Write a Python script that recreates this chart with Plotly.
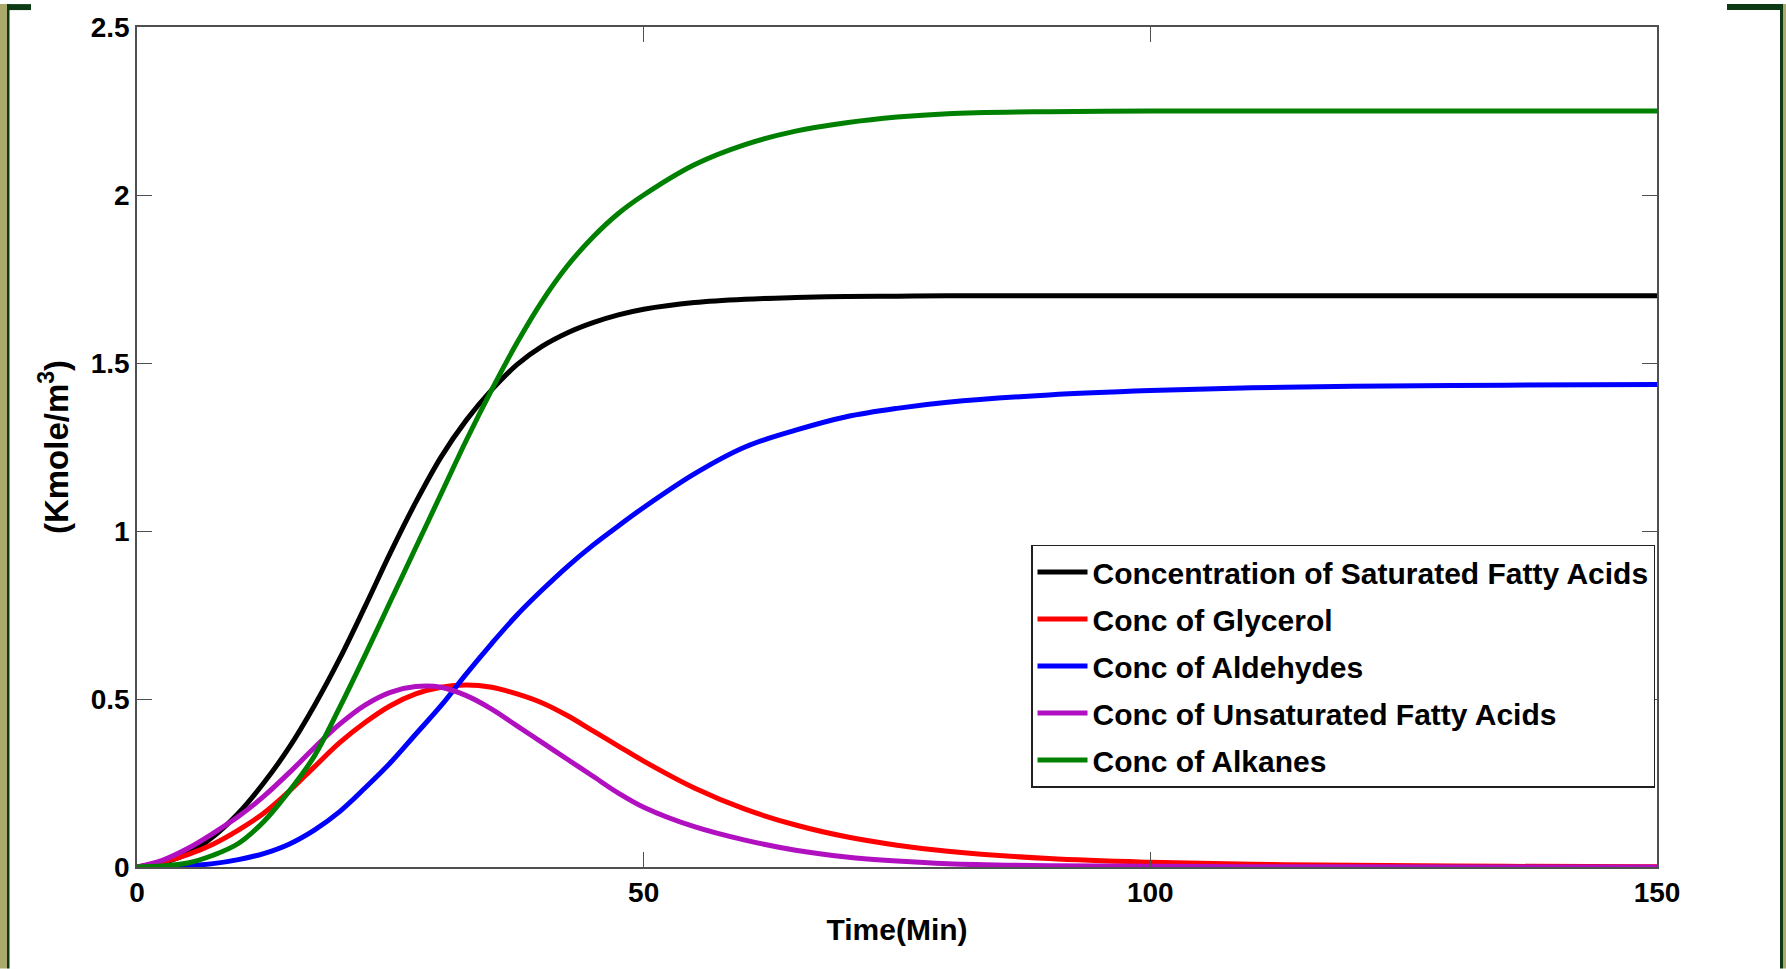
import plotly.graph_objects as go

# ---------------- data ----------------
time_min = [0, 2.5, 5, 7.5, 10, 12.5, 15, 17.5, 20, 22.5, 25, 27.5, 30, 32.5, 35,
            37.5, 40, 42.5, 45, 47.5, 50, 55, 60, 65, 70, 75, 80, 90, 100, 110,
            120, 135, 150]

saturated_fa = [0, 0.012, 0.04, 0.09, 0.16, 0.25, 0.355, 0.48, 0.62, 0.775, 0.935,
                1.085, 1.22, 1.33, 1.42, 1.495, 1.55, 1.59, 1.62, 1.643, 1.66, 1.68,
                1.69, 1.695, 1.698, 1.699, 1.70, 1.70, 1.70, 1.70, 1.70, 1.70, 1.70]

glycerol = [0, 0.015, 0.037, 0.068, 0.11, 0.16, 0.225, 0.298, 0.37, 0.43, 0.48,
            0.515, 0.535, 0.542, 0.535, 0.515, 0.488, 0.45, 0.405, 0.36, 0.315,
            0.235, 0.172, 0.125, 0.09, 0.065, 0.047, 0.025, 0.014, 0.008, 0.005,
            0.002, 0.001]

aldehydes = [0, 0.001, 0.004, 0.01, 0.022, 0.04, 0.068, 0.11, 0.165, 0.235, 0.31,
             0.395, 0.48, 0.575, 0.665, 0.75, 0.825, 0.895, 0.958, 1.015, 1.07,
             1.17, 1.25, 1.30, 1.34, 1.365, 1.383, 1.405, 1.418, 1.426, 1.431,
             1.434, 1.436]

unsaturated_fa = [0, 0.02, 0.055, 0.1, 0.15, 0.21, 0.28, 0.355, 0.425, 0.482, 0.52,
                  0.537, 0.535, 0.51, 0.47, 0.42, 0.37, 0.32, 0.27, 0.22, 0.178,
                  0.12, 0.08, 0.05, 0.03, 0.018, 0.01, 0.004, 0.002, 0.001, 0.0005,
                  0.0002, 0.0001]

alkanes = [0, 0.003, 0.012, 0.035, 0.07, 0.135, 0.225, 0.33, 0.475, 0.63, 0.79,
           0.95, 1.11, 1.27, 1.42, 1.56, 1.685, 1.79, 1.875, 1.945, 2.0, 2.09, 2.15,
           2.19, 2.215, 2.232, 2.242, 2.248, 2.25, 2.25, 2.25, 2.25, 2.25]

series_names = ["Concentration of Saturated Fatty Acids", "Conc of Glycerol",
                "Conc of Aldehydes", "Conc of Unsaturated Fatty Acids", "Conc of Alkanes"]
series_values = [saturated_fa, glycerol, aldehydes, unsaturated_fa, alkanes]
series_colors = ["#000000", "#FF0000", "#0000FF", "#B010C0", "#008000"]

x_ticks = [0, 50, 100, 150]
y_ticks = [0, 0.5, 1, 1.5, 2, 2.5]
y_ticklabels = ["0", "0.5", "1", "1.5", "2", "2.5"]

# ---------------- figure ----------------
W, H = 1786, 969
ML, MR, MT, MB = 137, 129, 23, 102
PW, PH = W - ML - MR, H - MT - MB

def px_x(p):
    return (p - ML) / PW

def px_y(p):
    return (H - MB - p) / PH

FONT = "Liberation Sans, Arial, sans-serif"

fig = go.Figure()
for i, (name, vals, col) in enumerate(zip(series_names, series_values, series_colors)):
    fig.add_trace(go.Scatter(
        x=time_min, y=vals, mode="lines", name=name,
        line=dict(color=col, width=5, shape="spline", smoothing=1.0),
        legendgroup=f"g{i}",
    ))

axis_common = dict(
    showgrid=False, zeroline=False, showline=True, linecolor="#505050", linewidth=1.5,
    mirror="allticks", ticks="inside", ticklen=15, tickwidth=1.3, tickcolor="#505050",
    tickfont=dict(family=FONT, size=28, color="black", weight="bold"),
)

fig.update_xaxes(range=[0, 150], tickvals=x_ticks,
                 title=dict(text="Time(Min)", standoff=12,
                            font=dict(family=FONT, size=30, color="black", weight="bold")),
                 **axis_common)
fig.update_yaxes(range=[0, 2.5], tickvals=y_ticks, ticktext=y_ticklabels,
                 title=dict(text="(Kmole/m<sup>3</sup>)", standoff=12,
                            font=dict(family=FONT, size=33, color="black", weight="bold")),
                 **axis_common)

# decorative slide frame
khaki = "#ABA96C"
dgreen = "#0D3A14"
frame = [
    (0, 0, 7, H, khaki), (7, 0, 9.5, H, dgreen), (7, 0, 31, 6, dgreen),
    (1727, 0, 1780, 6, dgreen), (1780, 0, 1783, H, dgreen), (1783, 0, W, H, khaki),
]
shapes = []
for x0, y0, x1, y1, c in frame:
    shapes.append(dict(type="rect", xref="paper", yref="paper",
                       x0=px_x(x0), x1=px_x(x1), y0=px_y(y1), y1=px_y(y0),
                       fillcolor=c, line=dict(width=0), layer="above"))

fig.update_layout(
    width=W, height=H,
    margin=dict(l=ML, r=MR, t=MT, b=MB, pad=0),
    paper_bgcolor="white", plot_bgcolor="white",
    shapes=shapes,
    legend=dict(
        x=px_x(1655), xanchor="right", y=px_y(543), yanchor="top",
        bgcolor="white", bordercolor="#202020", borderwidth=1.5,
        font=dict(family=FONT, size=30, color="black", weight="bold"),
        traceorder="grouped", tracegroupgap=5, itemwidth=50,
    ),
    showlegend=True,
)

fig.write_html(
    "out.html",
    config={"displayModeBar": False},
    post_script="document.body.style.margin='0';document.body.style.padding='0';"
                "document.body.style.overflow='hidden';",
)
